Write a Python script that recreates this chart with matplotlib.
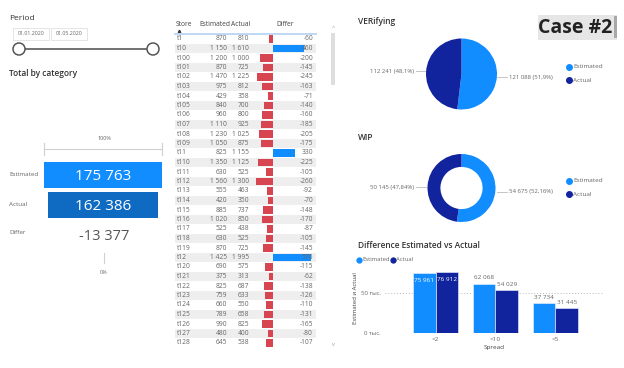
import numpy as np
import matplotlib
matplotlib.use("Agg")
import matplotlib.pyplot as plt
from matplotlib.patches import Rectangle, Circle

plt.rcParams['font.family'] = ['Open Sans', 'DejaVu Sans']

# ---------------- data ----------------
period = ["01.01.2020", "01.05.2020"]

funnel_labels = ["Estimated", "Actual"]
funnel_values = [175763, 162386]

stores = ["t1", "t10", "t100", "t101", "t102", "t103", "t104", "t105", "t106",
          "t107", "t108", "t109", "t11", "t110", "t111", "t112", "t113", "t114",
          "t115", "t116", "t117", "t118", "t119", "t12", "t120", "t121", "t122",
          "t123", "t124", "t125", "t126", "t127", "t128"]
estimated = [870, 1150, 1200, 870, 1470, 975, 429, 840, 960, 1110, 1230, 1050,
             825, 1350, 630, 1560, 555, 420, 885, 1020, 525, 630, 870, 1425,
             690, 375, 825, 759, 660, 789, 990, 480, 645]
actual = [810, 1610, 1000, 725, 1225, 812, 358, 700, 800, 925, 1025, 875,
          1155, 1125, 525, 1300, 463, 350, 737, 850, 438, 525, 725, 1995,
          575, 313, 687, 633, 550, 658, 825, 400, 538]

pie_labels = ["Estimated", "Actual"]
verifying = [121088, 112241]
wip = [54675, 50145]

spread = ["<2", "<10", "<5"]
spread_est = [75961, 62068, 37734]
spread_act = [76912, 54029, 31445]

# colours
C_EST = '#118DFF'
C_ACT = '#12239E'
C_FUN_ACT = '#0F6BC2'
C_NEG = '#D64550'
GREY = '#666666'

W, H = 624, 368
fig = plt.figure(figsize=(W / 100, H / 100), dpi=100)


def px_axes(x0, y0, x1, y1):
    return fig.add_axes([x0 / W, 1 - y1 / H, (x1 - x0) / W, (y1 - y0) / H])


def fmt(v):
    return f"{v:,}".replace(",", " ")


# overlay axes in pixel coordinates
ax0 = fig.add_axes([0, 0, 1, 1])
ax0.set_xlim(0, W)
ax0.set_ylim(H, 0)
ax0.axis('off')

# ---------------- period slicer ----------------
ax0.text(9, 18, "Period", fontsize=6, color='#333333', va='center')
for x0, d in zip([13, 51], period):
    ax0.add_patch(Rectangle((x0, 28), 36, 11.5, fc='white', ec='#E0E0E0', lw=0.6))
    ax0.text(x0 + 18, 33.8, d, fontsize=3.8, color=GREY, ha='center', va='center')
ax0.plot([19, 153], [49, 49], color='#666666', lw=1.3, zorder=2)
for cx in [19, 153]:
    ax0.add_patch(Circle((cx, 49), 6, fc='white', ec='#555555', lw=1.1, zorder=3))

# ---------------- funnel ----------------
ax0.text(9, 74, "Total by category", fontsize=6, color='#333333', va='center',
         fontweight='semibold')
ax0.text(104, 139, "100%", fontsize=4, color=GREY, ha='center', va='center')
ax0.plot([44, 162], [149, 149], color='#D0D0D0', lw=0.8)
for x in [44, 162]:
    ax0.plot([x, x], [143, 155], color='#D0D0D0', lw=0.8)
ax0.plot([104, 104], [253, 263], color='#D0D0D0', lw=0.8)
ax0.text(104, 272, "0%", fontsize=4, color=GREY, ha='center', va='center')

for lab, y in zip(funnel_labels + ["Differ"], [175, 204, 233]):
    ax0.text(9, y, lab, fontsize=4.5, color=GREY, va='center')

axf = px_axes(44, 160, 162, 222)
fw = np.array(funnel_values) / max(funnel_values)
axf.barh([0, 1], fw, left=-fw / 2, height=0.86, color=[C_EST, C_FUN_ACT])
for i, v in enumerate(funnel_values):
    axf.text(0, i + 0.04, fmt(v), fontsize=11, color='white', ha='center', va='center')
axf.set_xlim(-0.5, 0.5)
axf.set_ylim(1.55, -0.5)
axf.axis('off')
ax0.text(104, 236, fmt(funnel_values[1] - funnel_values[0]),
         fontsize=10.5, color='#555555', ha='center', va='center')

# ---------------- table ----------------
zero_px, scale = 273, 0.067


def tx(px):
    return (px - zero_px) / scale


n = len(stores)
differ = [a - e for e, a in zip(estimated, actual)]
axt = px_axes(175, 34.25, 316, 355)
axt.set_xlim(tx(175), tx(316))
axt.set_ylim((355 - 39) / 9.5, -0.5)
for i in range(n):
    if i % 2 == 1:
        axt.axhspan(i - 0.5, i + 0.5, color='#EEEEEE', lw=0, zorder=0)
axt.barh(range(n), differ, height=0.8,
         color=[C_EST if d > 0 else C_NEG for d in differ], zorder=2)
for i in range(n):
    axt.text(tx(177), i, stores[i], fontsize=4.8, color=GREY, va='center', zorder=3)
    axt.text(tx(227), i, fmt(estimated[i]), fontsize=4.8, color=GREY, va='center',
             ha='right', zorder=3)
    axt.text(tx(249), i, fmt(actual[i]), fontsize=4.8, color=GREY, va='center',
             ha='right', zorder=3)
    axt.text(tx(313), i, fmt(differ[i]), fontsize=4.8, color=GREY, va='center',
             ha='right', zorder=3)
axt.axis('off')

for lab, x in zip(["Store", "Estimated", "Actual", "Differ"], [176, 199, 231, 276]):
    ax0.text(x, 25, lab, fontsize=4.8, color='#444444', va='center')
ax0.plot(178.5, 30.5, marker='^', ms=1.8, color='#333333')
ax0.plot([175, 316], [33.5, 33.5], color='#BFD8F2', lw=1.4)

# scrollbar
ax0.text(333, 27, "^", fontsize=4, color='#999999', ha='center', va='center')
ax0.add_patch(Rectangle((331, 33), 4, 52, fc='#DDDDDD', ec='none'))
ax0.text(333, 344, "v", fontsize=4, color='#999999', ha='center', va='center')

# ---------------- case box ----------------
ax0.add_patch(Rectangle((538, 15), 79, 25, fc='#E6E6E6', ec='none'))
ax0.add_patch(Rectangle((614, 16), 2.5, 22, fc='#A8A8A8', ec='none'))
ax0.text(575, 28, "Case #2", fontsize=14, fontweight='bold', color='#222222',
         ha='center', va='center')


# ---------------- pies ----------------
def draw_pie(title, ty, cy, r, vals, hole, decimals, lab_y):
    ax0.text(358, ty, title, fontsize=6, color='#333333', va='center',
             fontweight='semibold')
    axp = px_axes(461.5 - r, cy - r, 461.5 + r, cy + r)
    kw = dict(width=1 - hole, linewidth=0) if hole else dict(linewidth=0)
    axp.pie(vals, colors=[C_EST, C_ACT], startangle=90, counterclock=False,
            radius=1, wedgeprops=kw)
    axp.set_xlim(-1, 1)
    axp.set_ylim(-1, 1)
    tot = sum(vals)
    pct = [f"{v / tot * 100:.{decimals}f}".replace(".", ",") for v in vals]
    # right label (Estimated), left label (Actual)
    ly_r, ly_l = lab_y
    ax0.plot([497, 507], [ly_r, ly_r], color='#BBBBBB', lw=0.6)
    ax0.text(509, ly_r, f"{fmt(vals[0])} ({pct[0]}%)", fontsize=4.3, color=GREY,
             va='center')
    ax0.plot([416, 426], [ly_l, ly_l], color='#BBBBBB', lw=0.6)
    ax0.text(414, ly_l, f"{fmt(vals[1])} ({pct[1]}%)", fontsize=4.3, color=GREY,
             va='center', ha='right')
    for k, lab in enumerate(pie_labels):
        yy = cy - 7 + 13 * k
        ax0.plot(568.5, yy, 'o', ms=4, color=[C_EST, C_ACT][k])
        ax0.text(573, yy, lab, fontsize=4.6, color=GREY, va='center')


draw_pie("VERifying", 22, 74, 35.5, verifying, 0, 1, (77, 71))
draw_pie("WIP", 138, 188, 34, wip, 0.62, 2, (192, 187))

# ---------------- clustered bars ----------------
ax0.text(358, 246, "Difference Estimated vs Actual", fontsize=6, color='#333333',
         va='center', fontweight='semibold')
ax0.plot(359, 259.5, 'o', ms=3.5, color=C_EST)
ax0.text(362, 259.5, "Estimated", fontsize=4.2, color=GREY, va='center')
ax0.plot(392.5, 259.5, 'o', ms=3.5, color=C_ACT)
ax0.text(396, 259.5, "Actual", fontsize=4.2, color=GREY, va='center')

axb = px_axes(385, 262, 603, 333.3)
x = np.arange(len(spread))
bw = 0.38
axb.bar(x - bw / 2, spread_est, width=bw, color=C_EST, edgecolor='#DCEBFF',
        lw=0.5, zorder=2)
axb.bar(x + bw / 2, spread_act, width=bw, color=C_ACT, edgecolor='#DCE0F5',
        lw=0.5, zorder=2)
for i in range(len(spread)):
    for xx, v in [(x[i] - bw / 2, spread_est[i]), (x[i] + bw / 2, spread_act[i])]:
        if i == 0:
            axb.text(xx, v - 9500, fmt(v), fontsize=4.6, color='white',
                     ha='center', va='center', zorder=3)
        else:
            axb.text(xx, v + 7500, fmt(v), fontsize=4.6, color=GREY,
                     ha='center', va='center', zorder=3)
axb.set_xlim(-0.85, 2.80)
axb.set_ylim(0, (333.3 - 262) / 40 * 50000)
axb.set_yticks([0, 50000])
axb.set_yticklabels(["0 тыс.", "50 тыс."], fontsize=4.3, color=GREY)
axb.set_xticks(x)
axb.set_xticklabels(spread, fontsize=4.6, color=GREY)
axb.tick_params(length=0, pad=3)
axb.yaxis.grid(True, linestyle=(0, (1, 2)), color='#BBBBBB', lw=0.7, zorder=0)
for s in axb.spines.values():
    s.set_visible(False)
axb.patch.set_alpha(0)
axb.set_xlabel("Spread", fontsize=4.6, color='#444444', labelpad=2)
axb.set_ylabel("Estimated и Actual", fontsize=4.3, color='#444444', labelpad=2)

fig.savefig("out.png", dpi=100)
